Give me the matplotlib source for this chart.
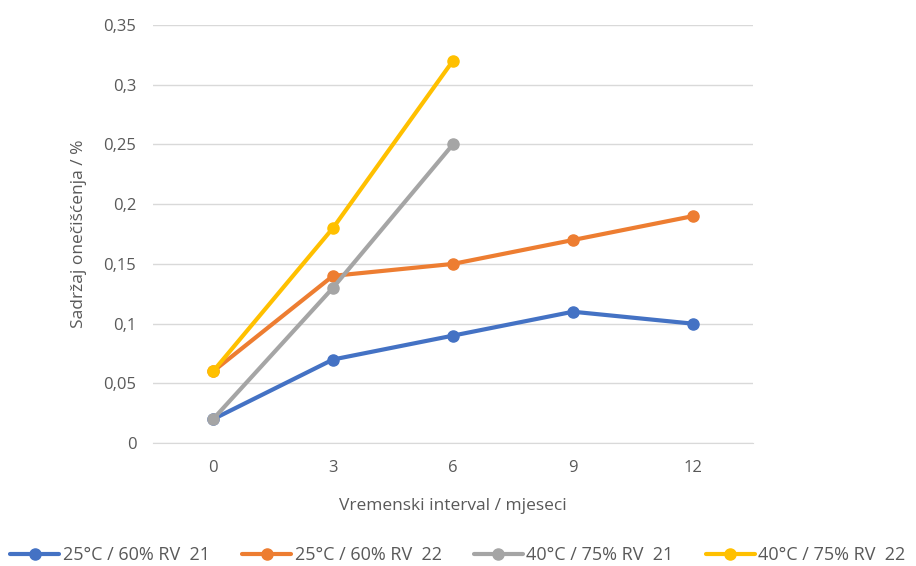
import matplotlib.pyplot as plt
from matplotlib.ticker import FuncFormatter

# podaci
mjeseci = ['0', '3', '6', '9', '12']
rv21_25 = [0.02, 0.07, 0.09, 0.11, 0.10]
rv22_25 = [0.06, 0.14, 0.15, 0.17, 0.19]
rv21_40 = [0.02, 0.13, 0.25]
rv22_40 = [0.06, 0.18, 0.32]
oznake = ['25°C / 60% RV  21', '25°C / 60% RV  22', '40°C / 75% RV  21', '40°C / 75% RV  22']
boje = ['#4472C4', '#ED7D31', '#A5A5A5', '#FFC000']

plt.rcParams['font.family'] = ['Open Sans', 'DejaVu Sans']
siva = '#595959'

fig = plt.figure(figsize=(9.16, 5.66), dpi=100)
ax = fig.add_axes([0.167, 0.217, 0.655, 0.739])

x = list(range(len(mjeseci)))
for serija, boja, oznaka in zip([rv21_25, rv22_25, rv21_40, rv22_40], boje, oznake):
    ax.plot(x[:len(serija)], serija, color=boja, lw=3, marker='o', ms=8,
            label=oznaka, solid_capstyle='round')

ax.set_xlim(-0.5, len(mjeseci) - 0.5)
ax.set_ylim(0, 0.35)
ax.set_xticks(x)
ax.set_xticklabels(mjeseci)
ax.set_yticks([i * 0.05 for i in range(8)])
ax.yaxis.set_major_formatter(FuncFormatter(lambda v, p: ('%g' % round(v, 2)).replace('.', ',')))
ax.grid(axis='y', color='#D9D9D9', lw=1)
ax.set_axisbelow(True)
for s in ['top', 'right', 'left']:
    ax.spines[s].set_visible(False)
ax.spines['bottom'].set_color('#D9D9D9')
ax.tick_params(length=0, labelsize=12, colors=siva, pad=12)

ax.set_xlabel('Vremenski interval / mjeseci', fontsize=12.5, color=siva, labelpad=16)
ax.set_ylabel('Sadržaj onečišćenja / %', fontsize=12.5, color=siva, labelpad=12)

fig.legend(loc='lower center', ncol=4, frameon=False, fontsize=13,
           bbox_to_anchor=(0.5, -0.025), handlelength=2.7, columnspacing=1.8,
           handletextpad=0.2, labelcolor=siva)

plt.savefig('out.png', dpi=100)
